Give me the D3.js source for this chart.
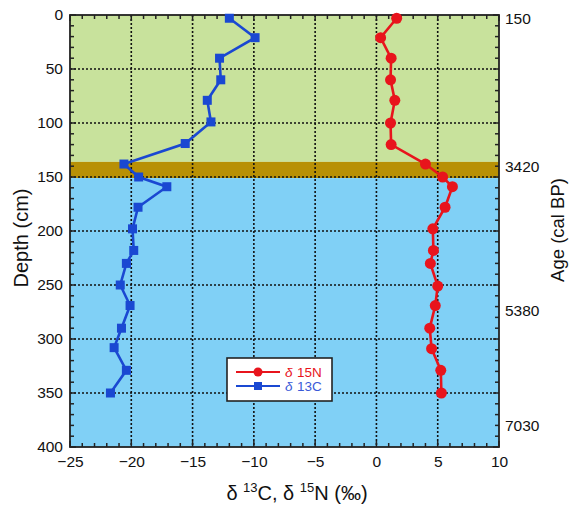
<!DOCTYPE html>
<html><head><meta charset="utf-8">
<script src="https://cdn.jsdelivr.net/npm/d3@7"></script>
<style>body{margin:0;background:#fff}svg{display:block;font-family:"Liberation Sans",Arial,sans-serif}</style>
</head><body><svg id="c" width="569" height="507"></svg>
<script>
const depthC = [3,21,40,60,79,99,119,138,150,159,178,198,218,230,250,269,290,308,329,350];
const d13C   = [-12.0,-9.9,-12.8,-12.7,-13.8,-13.5,-15.6,-20.6,-19.4,-17.1,-19.45,-19.9,-19.8,-20.4,-20.9,-20.1,-20.8,-21.4,-20.4,-21.7];
const depthN = [3,21,40,60,79,100,120,138,150,159,178,198,218,230,251,269,290,309,329,350];
const d15N   = [1.65,0.34,1.2,1.15,1.5,1.15,1.2,4.0,5.4,6.2,5.6,4.6,4.65,4.4,5.0,4.8,4.35,4.5,5.25,5.3];
const xTicks = [-25,-20,-15,-10,-5,0,5,10];
const yTicks = [0,50,100,150,200,250,300,350,400];
const ageLabels = ["150","3420","5380","7030"];
const ageDepths = [3,140,274,380];
const zones = [{from:0,to:136,color:"#c8e29c"},{from:136,to:151,color:"#b89005"},{from:151,to:400,color:"#80d0f6"}];

const svg = d3.select("#c");
const L=70,R=499,T=15,B=447;
const x = d3.scaleLinear().domain([-25,10]).range([L,R]);
const y = d3.scaleLinear().domain([0,400]).range([T,B]);

zones.forEach(z=>svg.append("rect").attr("x",L).attr("width",R-L).attr("y",y(z.from)).attr("height",y(z.to)-y(z.from)).attr("fill",z.color));

// grid
const g = svg.append("g");
xTicks.slice(1,-1).forEach(v=>g.append("line").attr("x1",x(v)).attr("x2",x(v)).attr("y1",T).attr("y2",B).attr("stroke","#111").attr("stroke-width",1.6).attr("stroke-dasharray","2,2"));
yTicks.slice(1,-1).forEach(v=>g.append("line").attr("y1",y(v)).attr("y2",y(v)).attr("x1",L).attr("x2",R).attr("stroke","#111").attr("stroke-width",1.6).attr("stroke-dasharray","2,2"));

// axes with inward ticks
const fs = 15.5;
const axB = d3.axisBottom(x).tickValues(xTicks).tickSize(0).tickPadding(9).tickFormat(d=>d<0?"\u2212"+Math.abs(d):d);
svg.append("g").attr("transform",`translate(0,${B})`).call(axB).call(s=>{s.select(".domain").remove();s.selectAll("text").attr("font-size",fs).attr("fill","#111").attr("font-family","Liberation Sans, Arial, sans-serif");});
const axL = d3.axisLeft(y).tickValues(yTicks).tickSize(0).tickPadding(7);
svg.append("g").attr("transform",`translate(${L},0)`).call(axL).call(s=>{s.select(".domain").remove();s.selectAll("text").attr("font-size",fs).attr("fill","#111").attr("font-family","Liberation Sans, Arial, sans-serif");});

const minorX = d3.range(-25,10.01,1), minorY = d3.range(0,400.01,10);
const tk = svg.append("g").attr("stroke","#222").attr("stroke-width",1.5);
minorX.forEach(v=>{const len = v%5===0?6:4;
  tk.append("line").attr("x1",x(v)).attr("x2",x(v)).attr("y1",B).attr("y2",B-len);
  tk.append("line").attr("x1",x(v)).attr("x2",x(v)).attr("y1",T).attr("y2",T+len);});
minorY.forEach(v=>{const len = v%50===0?6:4;
  tk.append("line").attr("y1",y(v)).attr("y2",y(v)).attr("x1",L).attr("x2",L+len);
  tk.append("line").attr("y1",y(v)).attr("y2",y(v)).attr("x1",R).attr("x2",R-len);});
svg.append("rect").attr("x",L).attr("y",T).attr("width",R-L).attr("height",B-T).attr("fill","none").attr("stroke","#222").attr("stroke-width",1.8);

// right age labels
ageLabels.forEach((t,i)=>svg.append("text").attr("x",505).attr("y",y(ageDepths[i])).attr("dy","0.35em").attr("font-size",fs).attr("fill","#111").text(t));

// series
const blue="#1a48d2", red="#e8141c";
const lineC = d3.line().x((d,i)=>x(d13C[i])).y((d,i)=>y(depthC[i]));
svg.append("path").attr("d",lineC(depthC)).attr("fill","none").attr("stroke",blue).attr("stroke-width",2.6);
svg.selectAll(".sq").data(depthC).join("rect").attr("x",(d,i)=>x(d13C[i])-4.5).attr("y",d=>y(d)-4.5).attr("width",9).attr("height",9).attr("fill",blue);
const lineN = d3.line().x((d,i)=>x(d15N[i])).y((d,i)=>y(depthN[i]));
svg.append("path").attr("d",lineN(depthN)).attr("fill","none").attr("stroke",red).attr("stroke-width",2.6);
svg.selectAll(".ci").data(depthN).join("circle").attr("cx",(d,i)=>x(d15N[i])).attr("cy",d=>y(d)).attr("r",5.5).attr("fill",red);

// legend
const lg = svg.append("g");
lg.append("rect").attr("x",227).attr("y",358).attr("width",105).attr("height",43).attr("fill","#fff").attr("stroke","#222").attr("stroke-width",1.6);
lg.append("line").attr("x1",236).attr("x2",280).attr("y1",372).attr("y2",372).attr("stroke",red).attr("stroke-width",2);
lg.append("circle").attr("cx",258).attr("cy",372).attr("r",4.5).attr("fill",red);
lg.append("line").attr("x1",236).attr("x2",280).attr("y1",386).attr("y2",386).attr("stroke",blue).attr("stroke-width",2);
lg.append("rect").attr("x",254).attr("y",382).attr("width",8).attr("height",8).attr("fill",blue);
lg.append("text").attr("x",285).attr("y",377).attr("font-size",13.5).attr("font-style","italic").attr("fill",red).text("δ");
lg.append("text").attr("x",297).attr("y",377).attr("font-size",13.5).attr("fill",red).text("15N");
lg.append("text").attr("x",285).attr("y",391).attr("font-size",13.5).attr("font-style","italic").attr("fill","#3a5ad8").text("δ");
lg.append("text").attr("x",297).attr("y",391).attr("font-size",13.5).attr("fill","#3a5ad8").text("13C");

// titles
svg.append("text").attr("transform","translate(28,238) rotate(-90)").attr("text-anchor","middle").attr("font-size",20).attr("fill","#111").text("Depth (cm)");
svg.append("text").attr("transform","translate(564,230) rotate(-90)").attr("text-anchor","middle").attr("font-size",18.5).attr("fill","#111").text("Age (cal BP)");
svg.append("text").attr("x",297).attr("y",500).attr("text-anchor","middle").attr("font-size",20).attr("fill","#111")
  .html('δ <tspan font-size="13" dy="-8">13</tspan><tspan dy="8">C,  δ </tspan><tspan font-size="13" dy="-8">15</tspan><tspan dy="8">N (‰)</tspan>');
</script></body></html>
